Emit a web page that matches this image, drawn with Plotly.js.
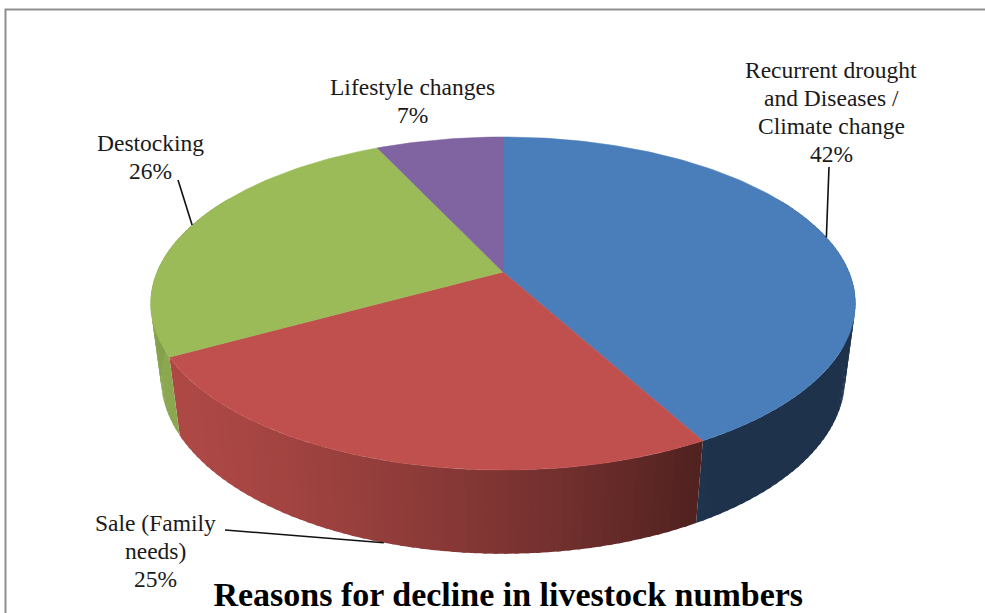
<!DOCTYPE html>
<html>
<head>
<meta charset="utf-8">
<script src="https://cdn.plot.ly/plotly-3.0.1.min.js"></script>
<style>
  html, body { margin: 0; padding: 0; background: #ffffff; }
  #chart { width: 985px; height: 613px; }
</style>
</head>
<body>
<div id="chart"></div>
<script>
// ---- data ----
const categories = ['Recurrent drought and Diseases / Climate change', 'Sale (Family needs)', 'Destocking', 'Lifestyle changes'];
const shares = [42, 25, 26, 7];
const labelLines = [
  ['Recurrent drought', 'and Diseases /', 'Climate change'],
  ['Sale (Family', 'needs)'],
  ['Destocking'],
  ['Lifestyle changes']
];
const sliceColors = ['#4A7EBB', '#C0504D', '#9BBB59', '#8064A2'];
const chartTitle = 'Reasons for decline in livestock numbers';

// ---- layout of labels (page pixels) ----
const labelPos = [[831, 112], [155, 551], [150, 157], [412, 101]];
const labelLineGap = 28;
// leader line: label end, and the pie angle (deg, clockwise from 12 o'clock) + rim it meets
const leaders = [
  { from: [829, 167], angle: 77, base: false },
  { from: [225, 530], angle: 197, base: true },
  { from: [178, 180], angle: 288, base: false },
  null
];

// ---- 3-D disc projection ----
const view = { cx: 503, cy: 272, sx: 346, sy: 324, sinT: 0.4957, cosT: 0.8685, persp: 0.218, depth: 0.27 };

function project(deg, y) {
  const a = deg * Math.PI / 180;
  const x = Math.sin(a), z = Math.cos(a);
  const vert = z * view.sinT + y * view.cosT;
  const w = 1 + view.persp * (z * view.cosT - y * view.sinT);
  return [view.cx + view.sx * x / w, view.cy - view.sy * vert / w];
}
function centre(y) {
  const vert = y * view.cosT;
  const w = 1 - view.persp * y * view.sinT;
  return [view.cx, view.cy - view.sy * vert / w];
}

function hexToRgb(h) {
  const n = parseInt(h.slice(1), 16);
  return [(n >> 16) & 255, (n >> 8) & 255, n & 255];
}
function shade(hex, f) {
  const c = hexToRgb(hex).map(v => Math.max(0, Math.min(255, Math.round(v * f))));
  return 'rgb(' + c.join(',') + ')';
}
// side wall lighting: light coming from the front-left
function wallFactor(deg) {
  const a = deg * Math.PI / 180;
  const la = 240 * Math.PI / 180;
  const d = Math.sin(a) * Math.sin(la) + Math.cos(a) * Math.cos(la);
  return 0.40 + 0.5 * Math.max(0, d);
}

const total = shares.reduce((s, v) => s + v, 0);
const bounds = [];
let acc = 0;
shares.forEach(v => {
  const a0 = acc / total * 360;
  acc += v;
  bounds.push([a0, acc / total * 360]);
});

const traces = [];
const base = -view.depth;

// side walls, in thin strips so the shading can follow the curve;
// each strip runs a little past its neighbour so no seams show
bounds.forEach((b, i) => {
  const lo = Math.max(b[0], 60), hi = Math.min(b[1], 300);
  if (hi <= lo) return;
  const n = Math.max(1, Math.ceil((hi - lo) / 1.5));
  for (let s = 0; s < n; s++) {
    const a0 = lo + (hi - lo) * s / n;
    const a1 = Math.min(hi, lo + (hi - lo) * (s + 1) / n + 0.6);
    const arcTop = [], arcBot = [];
    for (let t = 0; t <= 3; t++) {
      const a = a0 + (a1 - a0) * t / 3;
      arcTop.push(project(a, 0));
      arcBot.unshift(project(a, base));
    }
    const p = arcTop.concat(arcBot, [arcTop[0]]);
    const col = shade(sliceColors[i], wallFactor((a0 + a1) / 2));
    traces.push({
      type: 'scatter', mode: 'lines', fill: 'toself',
      x: p.map(q => q[0]), y: p.map(q => q[1]),
      fillcolor: col, line: { color: col, width: 0 },
      hoverinfo: 'skip', showlegend: false
    });
  }
});

// top faces
bounds.forEach((b, i) => {
  const pts = [centre(0)];
  const n = Math.max(2, Math.ceil((b[1] - b[0]) / 1));
  for (let s = 0; s <= n; s++) pts.push(project(b[0] + (b[1] - b[0]) * s / n, 0));
  pts.push(centre(0));
  traces.push({
    type: 'scatter', mode: 'lines', fill: 'toself', name: categories[i],
    x: pts.map(q => q[0]), y: pts.map(q => q[1]),
    fillcolor: sliceColors[i], line: { color: sliceColors[i], width: 0.5 },
    hoverinfo: 'name', showlegend: false
  });
});

// leader lines
leaders.forEach(l => {
  if (!l) return;
  const end = project(l.angle, l.base ? base : 0);
  traces.push({
    type: 'scatter', mode: 'lines',
    x: [l.from[0], end[0]], y: [l.from[1], end[1]],
    line: { color: '#111111', width: 1.6 },
    hoverinfo: 'skip', showlegend: false
  });
});

// data labels: one annotation per text line so the line gap stays tight
const serif = '"Liberation Serif", "Times New Roman", serif';
const annotations = [];
categories.forEach((c, i) => {
  const lines = labelLines[i].concat([shares[i] + '%']);
  lines.forEach((txt, j) => {
    annotations.push({
      x: labelPos[i][0], y: labelPos[i][1] + (j - (lines.length - 1) / 2) * labelLineGap,
      xref: 'x', yref: 'y', text: txt,
      showarrow: false, xanchor: 'center', yanchor: 'middle', align: 'center',
      font: { family: serif, size: 23.5, color: '#1a1a1a' }
    });
  });
});

const layout = {
  width: 985, height: 613,
  margin: { l: 0, r: 0, t: 0, b: 0 },
  paper_bgcolor: '#ffffff', plot_bgcolor: '#ffffff',
  font: { family: serif },
  xaxis: { range: [0, 985], visible: false, fixedrange: true },
  yaxis: { range: [613, 0], visible: false, fixedrange: true },
  title: {
    text: '<b>' + chartTitle + '</b>',
    font: { family: serif, size: 34, color: '#000000' },
    x: 0.516, xanchor: 'center', y: 0.012, yanchor: 'bottom', yref: 'container'
  },
  annotations: annotations,
  shapes: [{
    type: 'rect', xref: 'x', yref: 'y', x0: 5.5, y0: 9.5, x1: 1000, y1: 630,
    line: { color: '#8f8f8f', width: 2 }, fillcolor: 'rgba(0,0,0,0)', layer: 'above'
  }],
  showlegend: false
};

Plotly.newPlot('chart', traces, layout, { displayModeBar: false, staticPlot: true });
</script>
</body>
</html>
